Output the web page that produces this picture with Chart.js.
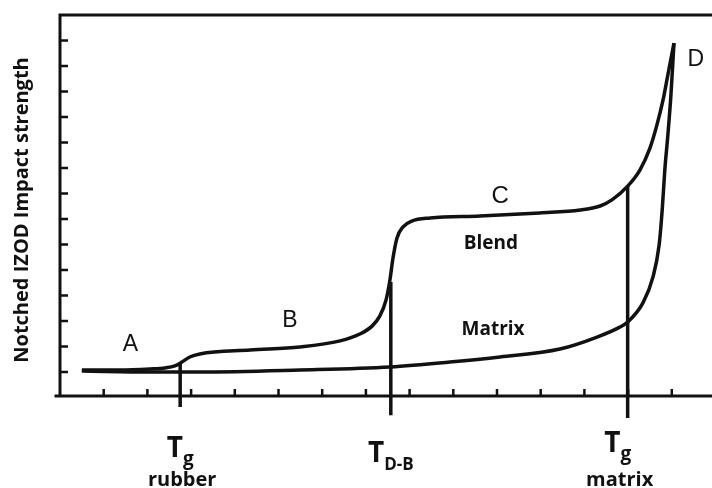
<!DOCTYPE html>
<html>
<head>
<meta charset="utf-8">
<script src="https://cdn.jsdelivr.net/npm/chart.js@4.4.0/dist/chart.umd.min.js"></script>
<style>
  html, body { margin: 0; padding: 0; background: #fff; }
  #wrap { width: 712px; height: 488px; }
</style>
</head>
<body>
<div id="wrap"><canvas id="izodChart" width="712" height="488"></canvas></div>
<script>
// Schematic: notched IZOD impact strength vs temperature (arbitrary units)

// Blend curve (temperature, impact strength)
const blendTemp = [0.50, 1.37, 2.06, 2.40, 2.63, 2.79, 2.97, 3.20, 4.35, 5.49, 6.41, 6.86, 7.14, 7.32, 7.46, 7.55, 7.62, 7.71, 7.85, 8.05, 8.47, 9.61, 10.98, 11.90, 12.36, 12.63, 12.99, 13.27, 13.50, 13.66, 13.80, 13.91, 14.05];
const blendImpact = [0.08, 0.08, 0.12, 0.16, 0.24, 0.39, 0.59, 0.71, 0.86, 0.98, 1.22, 1.49, 1.80, 2.20, 2.82, 3.61, 4.47, 5.25, 5.69, 5.92, 6.04, 6.12, 6.24, 6.35, 6.51, 6.75, 7.29, 7.92, 8.78, 9.69, 10.67, 11.65, 12.90];

// Matrix curve
const matrixTemp = [0.50, 2.06, 3.20, 5.49, 7.55, 8.92, 10.07, 11.44, 12.29, 12.81, 12.99, 13.34, 13.57, 13.71, 13.78, 13.84, 13.91, 13.98, 14.05];
const matrixImpact = [0.04, 0.00, 0.00, 0.08, 0.20, 0.39, 0.59, 0.90, 1.37, 1.76, 1.96, 2.71, 3.73, 4.98, 6.35, 7.92, 9.29, 10.86, 12.90];

// Transition markers: temperature, top and bottom of the drop line
const markerTemp = [2.75, 7.57, 12.99];
const markerTop = [0.31, 3.53, 7.29];
const markerBottom = [-1.37, -1.69, -1.80];

// Axis tick values
const xTicks = [1, 2, 3, 4, 5, 6, 7, 8, 9, 10, 11, 12, 13, 14];
const yTicks = [0, 1, 2, 3, 4, 5, 6, 7, 8, 9, 10, 11, 12, 13];

const X_MIN = 0, X_MAX = 14.92, Y_MIN = -0.94, Y_MAX = 14;

const toPoints = (xs, ys) => xs.map((x, i) => ({ x: x, y: ys[i] }));

const lineStyle = {
    showLine: true,
    borderColor: '#111',
    borderWidth: 3.5,
    pointRadius: 0,
    fill: false
};

const datasets = [
    Object.assign({ label: 'Blend', data: toPoints(blendTemp, blendImpact), cubicInterpolationMode: 'monotone' }, lineStyle),
    Object.assign({ label: 'Matrix', data: toPoints(matrixTemp, matrixImpact), cubicInterpolationMode: 'monotone' }, lineStyle)
];
markerTemp.forEach((t, i) => {
    datasets.push(Object.assign({
        label: 'marker' + i,
        data: [{ x: t, y: markerTop[i] }, { x: t, y: markerBottom[i] }],
        clip: false
    }, lineStyle));
});

// Text placed in data coordinates
const curveLabels = [
    { text: 'A', x: 1.61, y: 1.06, font: '23px "Liberation Sans"' },
    { text: 'B', x: 5.26, y: 2.00, font: '23px "Liberation Sans"' },
    { text: 'C', x: 10.07, y: 6.90, font: '24px "Liberation Sans"' },
    { text: 'D', x: 14.55, y: 12.24, font: '23px "Liberation Sans"' },
    { text: 'Blend', x: 9.86, y: 5.02, font: 'bold 19px "Open Sans"' },
    { text: 'Matrix', x: 9.91, y: 1.65, font: 'bold 19px "Open Sans"' }
];
const tempLabels = [
    { main: 'T', sub: 'g', under: 'rubber', x: 2.75, dx: 0 },
    { main: 'T', sub: 'D-B', under: '', x: 7.57, dx: 0 },
    { main: 'T', sub: 'g', under: 'matrix', x: 12.99, dx: -10 }
];
const tempMainY = [-3.33, -3.53, -3.14];
const tempUnderY = -4.47;

const decorPlugin = {
    id: 'decor',
    beforeDatasetsDraw(chart) {
        const ctx = chart.ctx;
        const xs = chart.scales.x, ys = chart.scales.y;
        const a = chart.chartArea;
        ctx.save();
        ctx.strokeStyle = '#111';
        ctx.lineWidth = 3;
        ctx.lineCap = 'square';
        ctx.beginPath();
        ctx.moveTo(a.left, a.bottom); ctx.lineTo(a.left, a.top);
        ctx.moveTo(a.left, a.top); ctx.lineTo(a.right, a.top);
        ctx.moveTo(a.left - 4, a.bottom); ctx.lineTo(a.right, a.bottom);
        ctx.stroke();
        ctx.lineWidth = 2.5;
        ctx.lineCap = 'butt';
        ctx.beginPath();
        yTicks.forEach(v => {
            const py = ys.getPixelForValue(v);
            ctx.moveTo(a.left, py); ctx.lineTo(a.left + 8, py);
        });
        xTicks.forEach(v => {
            const px = xs.getPixelForValue(v);
            ctx.moveTo(px, a.bottom); ctx.lineTo(px, a.bottom - 7);
        });
        ctx.stroke();
        ctx.restore();
    },
    afterDraw(chart) {
        const ctx = chart.ctx;
        const xs = chart.scales.x, ys = chart.scales.y;
        ctx.save();
        ctx.fillStyle = '#111';
        ctx.textAlign = 'center';
        ctx.textBaseline = 'middle';
        curveLabels.forEach(l => {
            ctx.font = l.font;
            ctx.fillText(l.text, xs.getPixelForValue(l.x), ys.getPixelForValue(l.y));
        });

        // temperature labels under the axis
        ctx.textBaseline = 'alphabetic';
        tempLabels.forEach((l, i) => {
            const cx = xs.getPixelForValue(l.x) + l.dx;
            const by = ys.getPixelForValue(tempMainY[i]);
            ctx.font = 'bold 28px "Open Sans"';
            const wMain = ctx.measureText(l.main).width;
            const subFont = l.sub === 'g' ? 'bold 19px "Open Sans"' : 'bold 17px "Open Sans"';
            ctx.font = subFont;
            const wSub = ctx.measureText(l.sub).width;
            const left = cx - (wMain + wSub) / 2;
            ctx.textAlign = 'left';
            ctx.font = 'bold 28px "Open Sans"';
            ctx.fillText(l.main, left, by);
            ctx.font = subFont;
            ctx.fillText(l.sub, left + wMain, by + 8);
            if (l.under) {
                ctx.textAlign = 'center';
                ctx.font = 'bold 20px "Open Sans"';
                ctx.fillText(l.under, cx + 2, ys.getPixelForValue(tempUnderY));
            }
        });

        // y axis title
        ctx.translate(22, 210);
        ctx.rotate(-Math.PI / 2);
        ctx.textAlign = 'center';
        ctx.textBaseline = 'middle';
        ctx.font = 'bold 20px "Open Sans"';
        ctx.fillText('Notched IZOD Impact strength', 0, 0);
        ctx.restore();
    }
};

new Chart(document.getElementById('izodChart'), {
    type: 'scatter',
    data: { datasets: datasets },
    options: {
        responsive: false,
        animation: false,
        layout: { padding: { left: 60, top: 15, right: 0, bottom: 92 } },
        plugins: {
            legend: { display: false },
            tooltip: { enabled: false }
        },
        scales: {
            x: { type: 'linear', min: X_MIN, max: X_MAX, display: false },
            y: { type: 'linear', min: Y_MIN, max: Y_MAX, display: false }
        }
    },
    plugins: [decorPlugin]
});
</script>
</body>
</html>
